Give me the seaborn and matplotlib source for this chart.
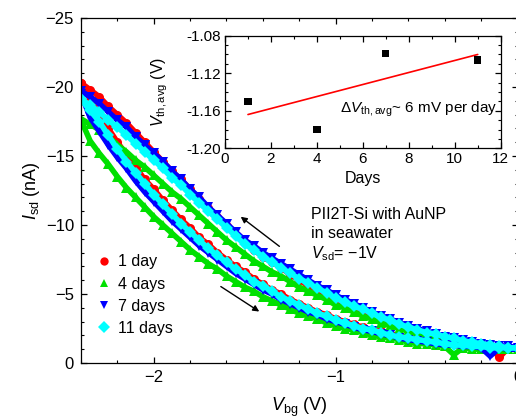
import numpy as np
import pandas as pd
import matplotlib
matplotlib.use('Agg')
import matplotlib.pyplot as plt
import seaborn as sns
from matplotlib.lines import Line2D
from matplotlib.ticker import MultipleLocator

# gate sweep (V), same grid for both sweep directions
v_bg = [-2.40, -2.35, -2.30, -2.25, -2.20, -2.15, -2.10, -2.05, -2.00, -1.95,
        -1.90, -1.85, -1.80, -1.75, -1.70, -1.65, -1.60, -1.55, -1.50, -1.45,
        -1.40, -1.35, -1.30, -1.25, -1.20, -1.15, -1.10, -1.05, -1.00, -0.95,
        -0.90, -0.85, -0.80, -0.75, -0.70, -0.65, -0.60, -0.55, -0.50, -0.45,
        -0.40, -0.35, -0.30, -0.25, -0.20, -0.15, -0.10, -0.05, 0.00]

# I_sd (nA), sweep towards negative gate (upper branch)
i_day1_up = [-20.3, -19.8, -19.3, -18.6, -18.0, -17.4, -16.7, -16.0, -15.3, -14.6,
             -13.9, -13.3, -12.6, -11.9, -11.2, -10.6, -9.9, -9.3, -8.7, -8.2,
             -7.7, -7.3, -6.9, -6.4, -6.0, -5.6, -5.3, -4.9, -4.5, -4.2,
             -3.9, -3.6, -3.3, -3.1, -2.8, -2.6, -2.4, -2.2, -2.0, -1.8,
             -1.7, -1.6, -1.5, -1.4, -1.3, -1.2, -1.2, -1.1, -1.1]
i_day4_up = [-17.7, -17.3, -16.9, -16.4, -15.8, -15.3, -14.7, -14.2, -13.6, -13.0,
             -12.4, -11.9, -11.3, -10.7, -10.1, -9.5, -8.9, -8.4, -7.9, -7.4,
             -7.0, -6.6, -6.3, -5.9, -5.5, -5.2, -4.9, -4.6, -4.2, -4.0,
             -3.7, -3.4, -3.2, -2.9, -2.7, -2.5, -2.3, -2.1, -2.0, -1.8,
             -1.7, -1.5, -1.4, -1.3, -1.2, -1.1, -1.1, -1.0, -1.0]
i_day7_up = [-19.7, -19.3, -18.8, -18.2, -17.6, -17.1, -16.4, -15.8, -15.2, -14.6,
             -13.9, -13.3, -12.6, -12.0, -11.3, -10.7, -10.1, -9.5, -8.9, -8.5,
             -8.0, -7.6, -7.2, -6.8, -6.4, -6.0, -5.6, -5.3, -4.9, -4.6,
             -4.3, -4.0, -3.7, -3.4, -3.2, -2.9, -2.7, -2.5, -2.3, -2.1,
             -1.9, -1.8, -1.7, -1.5, -1.4, -1.3, -1.2, -1.2, -1.1]
i_day11_up = [-19.1, -18.7, -18.2, -17.6, -17.1, -16.5, -15.9, -15.3, -14.7, -14.1,
              -13.4, -12.9, -12.2, -11.6, -11.0, -10.4, -9.8, -9.2, -8.6, -8.2,
              -7.7, -7.3, -6.9, -6.5, -6.1, -5.8, -5.4, -5.1, -4.7, -4.4,
              -4.1, -3.9, -3.6, -3.3, -3.1, -2.8, -2.6, -2.4, -2.2, -2.1,
              -1.9, -1.8, -1.6, -1.5, -1.4, -1.3, -1.2, -1.1, -1.1]

# I_sd (nA), sweep back towards 0 V (lower branch)
i_day1_down = [-20.3, -19.1, -18.0, -17.0, -16.0, -15.1, -14.2, -13.3, -12.6, -11.8,
               -11.1, -10.4, -9.8, -9.1, -8.6, -8.0, -7.5, -7.0, -6.6, -6.1,
               -5.7, -5.3, -5.0, -4.6, -4.3, -4.0, -3.7, -3.5, -3.2, -3.0,
               -2.8, -2.6, -2.4, -2.3, -2.1, -2.0, -1.8, -1.7, -1.6, -1.5,
               -1.4, -1.4, -1.3, -1.2, -1.2, -1.2, -0.4, -1.1, -1.1]
i_day4_down = [-17.6, -16.1, -15.2, -14.4, -13.5, -12.7, -12.0, -11.3, -10.6, -10.0,
               -9.4, -8.8, -8.2, -7.7, -7.2, -6.8, -6.3, -5.9, -5.5, -5.2,
               -4.8, -4.5, -4.2, -3.9, -3.6, -3.4, -3.2, -2.9, -2.7, -2.5,
               -2.4, -2.2, -2.0, -1.9, -1.8, -1.7, -1.5, -1.4, -1.4, -1.3,
               -1.2, -0.6, -1.1, -1.0, -1.0, -1.0, -1.0, -1.0, -1.0]
i_day7_down = [-19.5, -17.8, -16.8, -15.8, -14.9, -14.1, -13.2, -12.4, -11.7, -11.0,
               -10.3, -9.7, -9.1, -8.5, -8.0, -7.5, -7.0, -6.5, -6.1, -5.7,
               -5.3, -5.0, -4.6, -4.3, -4.0, -3.7, -3.5, -3.2, -3.0, -2.8,
               -2.6, -2.4, -2.3, -2.1, -2.0, -1.8, -1.7, -1.6, -1.5, -1.4,
               -1.3, -1.3, -1.2, -1.2, -1.1, -0.5, -1.1, -1.0, -1.0]
i_day11_down = [-19.1, -18.3, -17.5, -16.5, -15.5, -14.6, -13.8, -13.0, -12.2, -11.5,
                -10.8, -10.1, -9.5, -8.9, -8.3, -7.8, -7.3, -6.8, -6.4, -5.9,
                -5.6, -5.2, -4.8, -4.5, -4.2, -3.9, -3.6, -3.4, -3.1, -2.9,
                -2.7, -2.5, -2.4, -2.2, -2.0, -1.9, -1.8, -1.7, -1.6, -1.5,
                -1.4, -1.3, -1.3, -1.2, -1.2, -1.1, -1.1, -1.1, -1.1]

series_labels = ['1 day', '4 days', '7 days', '11 days']
series_colors = ['#ff0000', '#00e000', '#0000ff', '#00ffff']
series_markers = ['o', '^', 'v', 'D']

# inset: average threshold voltage vs. days
days = [1, 4, 7, 11]
vth_avg = [-1.150, -1.180, -1.099, -1.106]
fit_days = [1, 11]
fit_vth = [-1.164, -1.100]

# long table for seaborn
ups = [i_day1_up, i_day4_up, i_day7_up, i_day11_up]
downs = [i_day1_down, i_day4_down, i_day7_down, i_day11_down]
frames = []
for lab, up, dn in zip(series_labels, ups, downs):
    frames.append(pd.DataFrame({'V': v_bg, 'I': up, 'series': lab, 'branch': 'up'}))
    frames.append(pd.DataFrame({'V': v_bg, 'I': dn, 'series': lab, 'branch': 'down'}))
df = pd.concat(frames, ignore_index=True)

sns.set_style('ticks', {'axes.edgecolor': 'black', 'xtick.color': 'black',
                        'ytick.color': 'black', 'text.color': 'black',
                        'axes.labelcolor': 'black'})
plt.rcParams['font.family'] = ['Liberation Sans', 'DejaVu Sans']
plt.rcParams['mathtext.fontset'] = 'custom'
plt.rcParams['mathtext.rm'] = 'Liberation Sans'
plt.rcParams['mathtext.it'] = 'Liberation Sans:italic'
plt.rcParams['mathtext.bf'] = 'Liberation Sans:bold'

W, H = 516, 420
fig = plt.figure(figsize=(W / 100, H / 100), dpi=100)
ax = fig.add_axes([81 / W, 1 - 363 / H, (517.5 - 81) / W, 345 / H])

# === main transfer curves ===
for lab, col, mk in zip(series_labels, series_colors, series_markers):
    sub = df[df['series'] == lab]
    sns.lineplot(data=sub, x='V', y='I', units='branch', estimator=None, sort=False,
                 color=col, lw=4.0, marker=mk, markersize=6.5, markeredgewidth=0,
                 legend=False, ax=ax)

ax.set_xlim(-2.4, 0)
ax.set_ylim(0, -25)
ax.xaxis.set_major_locator(MultipleLocator(1))
ax.xaxis.set_minor_locator(MultipleLocator(0.2))
ax.yaxis.set_major_locator(MultipleLocator(5))
ax.yaxis.set_minor_locator(MultipleLocator(1))
ax.tick_params(which='both', direction='in', top=True, right=True, labelsize=12)
ax.tick_params(which='major', length=4.5, width=0.9, pad=5)
ax.tick_params(which='minor', length=2.5, width=0.8)
for sp in ax.spines.values():
    sp.set_linewidth(0.9)

ax.set_xlabel(r'$V_{\mathrm{bg}}$ (V)', fontsize=13)
ax.set_ylabel(r'$I_{\mathrm{sd}}$ (nA)', fontsize=13)
ax.xaxis.set_label_coords(0.5, -0.095)
ax.yaxis.set_label_coords(-0.09, 0.5)

# sweep direction arrows
ax.annotate('', xy=(-1.534, -10.72), xytext=(-1.297, -8.33),
            arrowprops=dict(arrowstyle='-|>', color='black', lw=1.0, mutation_scale=9))
ax.annotate('', xy=(-1.407, -3.62), xytext=(-1.644, -5.65),
            arrowprops=dict(arrowstyle='-|>', color='black', lw=1.0, mutation_scale=9))

ax.text(0.527, 0.4188, 'PII2T-Si with AuNP', transform=ax.transAxes, fontsize=11.5, va='baseline')
ax.text(0.527, 0.3609, 'in seawater', transform=ax.transAxes, fontsize=11.5, va='baseline')
ax.text(0.527, 0.3029, r'$V_{\mathrm{sd}}$= $-$1V', transform=ax.transAxes, fontsize=11.5, va='baseline')

handles = [Line2D([], [], ls='none', marker=mk, color=col, markersize=6, markeredgewidth=0)
           for col, mk in zip(series_colors, series_markers)]
ax.legend(handles, series_labels, loc='upper left', bbox_to_anchor=(0.037, 0.315),
          frameon=False, fontsize=11.5, handlelength=0.8, handletextpad=0.5,
          labelspacing=0.45, borderpad=0, borderaxespad=0)

# === inset ===
axin = fig.add_axes([225 / W, 1 - 148.3 / H, 275.7 / W, 112.6 / H])
axin.set_facecolor('white')
sns.lineplot(x=fit_days, y=fit_vth, color='red', lw=1.2, ax=axin)
sns.scatterplot(x=days, y=vth_avg, marker='s', color='black', s=28, edgecolor='none',
                ax=axin, zorder=3)
axin.set_xlim(0, 12)
axin.set_ylim(-1.20, -1.08)
axin.xaxis.set_major_locator(MultipleLocator(2))
axin.xaxis.set_minor_locator(MultipleLocator(1))
axin.yaxis.set_major_locator(MultipleLocator(0.04))
axin.yaxis.set_minor_locator(MultipleLocator(0.01))
axin.yaxis.set_major_formatter(matplotlib.ticker.FormatStrFormatter('%.2f'))
axin.tick_params(which='both', direction='in', top=True, right=True, labelsize=11)
axin.tick_params(which='major', length=4, width=0.9, pad=3)
axin.tick_params(which='minor', length=2.2, width=0.8)
for sp in axin.spines.values():
    sp.set_linewidth(0.9)
axin.set_xlabel('Days', fontsize=11.5)
axin.set_ylabel(r'$V_{\mathrm{th,avg}}$ (V)', fontsize=11.5)
axin.xaxis.set_label_coords(0.5, -0.2)
axin.yaxis.set_label_coords(-0.2, 0.5)
axin.text(0.417, 0.313, r'$\Delta V_{\mathrm{th,avg}}$~ 6 mV per day', transform=axin.transAxes,
          fontsize=11, va='baseline')

fig.savefig('out.png', dpi=100)
